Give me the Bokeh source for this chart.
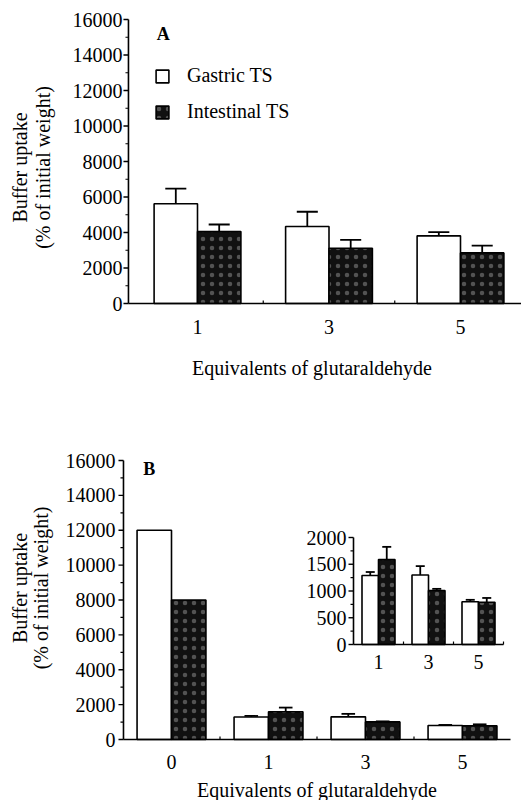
import numpy as np
from bokeh.plotting import figure
from bokeh.models import Range1d, Legend, LegendItem
from bokeh.layouts import column
from bokeh.embed import file_html
from bokeh.resources import INLINE
from bokeh.core.properties import value

# ---------------- data ----------------
# Panel A
a_groups = ["1", "3", "5"]
a_gastric = [5620, 4340, 3810]
a_gastric_sd = [850, 830, 210]
a_intestinal = [4060, 3110, 2850]
a_intestinal_sd = [390, 470, 410]

# Panel B
b_groups = ["0", "1", "3", "5"]
b_gastric = [12000, 1290, 1300, 800]
b_gastric_sd = [0, 60, 170, 35]
b_intestinal = [8000, 1590, 1010, 790]
b_intestinal_sd = [0, 240, 30, 80]

# Inset of panel B
in_groups = ["1", "3", "5"]
in_gastric = [1290, 1300, 800]
in_gastric_sd = [65, 165, 35]
in_intestinal = [1590, 1010, 790]
in_intestinal_sd = [235, 30, 80]

main_yticks = [0, 2000, 4000, 6000, 8000, 10000, 12000, 14000, 16000]
main_yminor = [1000, 3000, 5000, 7000, 9000, 11000, 13000, 15000]
in_yticks = [0, 500, 1000, 1500, 2000]
in_yminor = [250, 750, 1250, 1750]

series_names = ["Gastric TS", "Intestinal TS"]
y_label_lines = ["Buffer uptake", "(% of initial weight)"]
x_label = "Equivalents of glutaraldehyde"

FONT = "Liberation Serif"
FS = "20px"
DARK = "#111111"
W, H = 521, 400


def xrange_px(px0, ppu):
    """x range so that value 0 sits at pixel px0, ppu pixels per unit."""
    return Range1d(-px0 / ppu, (W - px0) / ppu)


def yrange_px(py0, ppu):
    """y range so that value 0 sits at pixel py0 (from top)."""
    return Range1d(-(H - py0) / ppu, py0 / ppu)


def bars(p, groups, gas, gas_sd, inte, inte_sd, bw, capw, kw):
    x = np.arange(len(groups), dtype=float)
    r1 = p.vbar(x=x - bw / 2, top=gas, width=bw, bottom=0, fill_color="white",
                line_color="black", line_width=1.6, **kw)
    r2 = p.vbar(x=x + bw / 2, top=inte, width=bw, bottom=0, fill_color=DARK,
                line_color="black", line_width=1.6, hatch_pattern="dot",
                hatch_color="white", hatch_scale=9, hatch_weight=1.0,
                hatch_alpha=0.28, **kw)
    for off, v, sd in ((-bw / 2, gas, gas_sd), (bw / 2, inte, inte_sd)):
        v = np.asarray(v, float)
        sd = np.asarray(sd, float)
        m = sd > 0
        xs = x[m] + off
        p.segment(x0=xs, y0=v[m], x1=xs, y1=v[m] + sd[m], line_color="black",
                  line_width=1.8, **kw)
        p.segment(x0=xs - capw, y0=v[m] + sd[m], x1=xs + capw, y1=v[m] + sd[m],
                  line_color="black", line_width=1.8, **kw)
    return r1, r2


def axes(p, groups, xleft, xright, yticks, yminor, ytick_dx, xtick_dy, kw):
    n = len(groups)
    ytop = yticks[-1]
    p.segment(x0=[xleft, xleft], y0=[0, 0], x1=[xleft, xright], y1=[ytop, 0],
              line_color="black", line_width=1.6, **kw)
    p.ray(x=[xleft] * len(yticks), y=yticks, length=5, length_units="screen",
          angle=np.pi, line_color="black", line_width=1.4, **kw)
    p.ray(x=[xleft] * len(yminor), y=yminor, length=3, length_units="screen",
          angle=np.pi, line_color="black", line_width=1.2, **kw)
    xminor = [i + 0.5 for i in range(n - 1)] + ([n - 0.5] if xright >= n - 0.5 else [])
    p.ray(x=xminor, y=[0] * len(xminor), length=3, length_units="screen",
          angle=np.pi / 2, line_color="black", line_width=1.2, **kw)
    p.text(x=[xleft] * len(yticks), y=yticks, text=[str(t) for t in yticks],
           x_offset=ytick_dx, text_align="right", text_baseline="middle",
           text_font=value(FONT), text_font_size=FS, text_color="black", **kw)
    p.text(x=list(range(n)), y=[0] * n, text=groups, y_offset=xtick_dy,
           text_align="center", text_baseline="middle", text_font=value(FONT),
           text_font_size=FS, text_color="black", **kw)


def titles(p, xleft, xt_x, xt_dx, xt_dy, yt_y, yt_dx, yt_dy):
    p.text(x=[xt_x], y=[0], text=[x_label], x_offset=xt_dx, y_offset=xt_dy,
           text_align="center", text_baseline="alphabetic",
           text_font=value(FONT), text_font_size=FS, text_color="black")
    for line, dx in zip(y_label_lines, yt_dx):
        p.text(x=[xleft], y=[yt_y], text=[line], x_offset=dx, y_offset=yt_dy,
               angle=np.pi / 2, text_align="center", text_baseline="middle",
               text_font=value(FONT), text_font_size=FS, text_color="black")


def panel_letter(p, x, y, letter):
    p.text(x=[x], y=[y], text=[letter], text_align="left",
           text_baseline="alphabetic", text_font=value(FONT),
           text_font_size="18px", text_font_style="bold", text_color="black")


def base_fig(xr, yr):
    p = figure(width=W, height=H, x_range=xr, y_range=yr, output_backend="svg",
               toolbar_location=None, x_axis_location=None,
               y_axis_location=None, min_border=0, min_border_left=0,
               min_border_right=0, min_border_top=0, min_border_bottom=0)
    p.grid.visible = False
    p.outline_line_color = None
    p.background_fill_color = "white"
    p.border_fill_color = "white"
    return p


# ---------------- Panel A ----------------
pa = base_fig(xrange_px(197, 131.5), yrange_px(303, 284 / 16000))
ra1, ra2 = bars(pa, a_groups, a_gastric, a_gastric_sd, a_intestinal,
                a_intestinal_sd, 0.33, 0.08, {})
axes(pa, a_groups, -0.525, 2.46, main_yticks, main_yminor, -6, 23, {})
titles(pa, -0.525, float(np.mean(range(len(a_groups)))), -17, 64,
       main_yticks[-1] / 2, [-108, -85], 6)
panel_letter(pa, -0.31, 15200, "A")
legend = Legend(items=[LegendItem(label=series_names[0], renderers=[ra1]),
                       LegendItem(label=series_names[1], renderers=[ra2])],
                location=(154, 277), glyph_width=16, glyph_height=16,
                label_height=16, label_standoff=17, spacing=13, padding=0,
                margin=0, border_line_color=None, background_fill_alpha=0,
                label_text_font=FONT, label_text_font_size=FS,
                label_text_color="black")
pa.add_layout(legend)

# ---------------- Panel B ----------------
pb = base_fig(xrange_px(171, 97), yrange_px(339, 279 / 16000))
pb.extra_x_ranges = {"ix": xrange_px(378, 50)}
pb.extra_y_ranges = {"iy": yrange_px(244, 107 / 2000)}
bars(pb, b_groups, b_gastric, b_gastric_sd, b_intestinal, b_intestinal_sd,
     0.355, 0.07, {})
axes(pb, b_groups, -0.495, 3.495, main_yticks, main_yminor, -8, 22, {})
titles(pb, -0.495, float(np.mean(range(len(b_groups)))), 0, 50,
       main_yticks[-1] / 2, [-103, -82], -12)
panel_letter(pb, -0.29, 15500, "B")

# inset
ik = dict(x_range_name="ix", y_range_name="iy")
bars(pb, in_groups, in_gastric, in_gastric_sd, in_intestinal, in_intestinal_sd,
     0.33, 0.09, ik)
axes(pb, in_groups, -0.5, 2.5, in_yticks, in_yminor, -7, 17, ik)

layout = column(pa, pb, spacing=0)
open("out.html", "w").write(file_html(layout, INLINE))
